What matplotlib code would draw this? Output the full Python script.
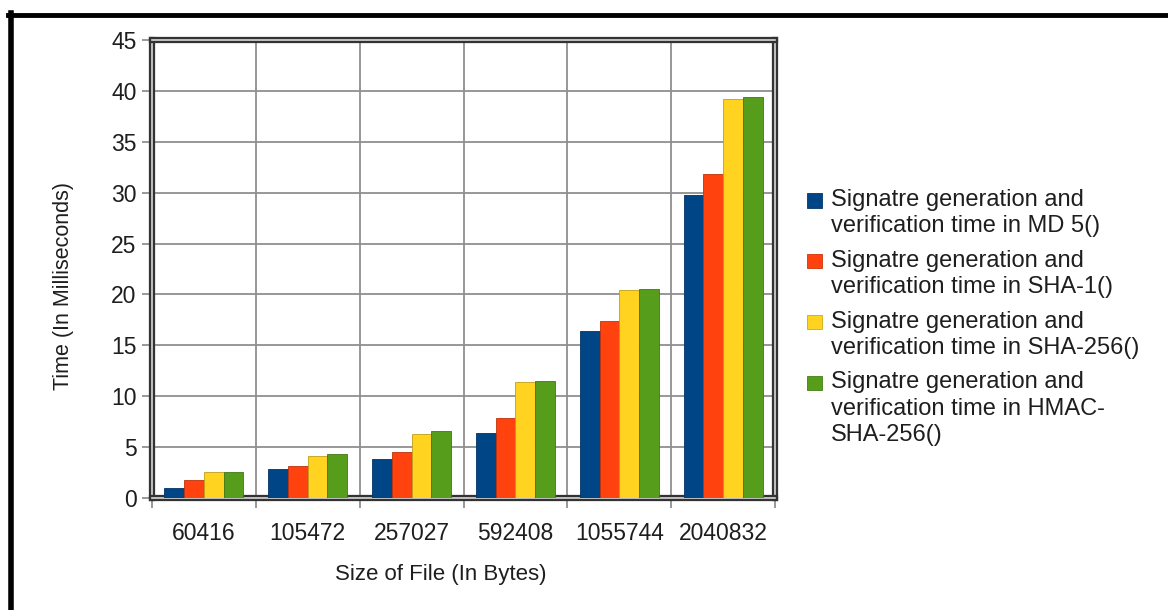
import matplotlib
matplotlib.use("Agg")
import matplotlib.pyplot as plt
import matplotlib.patheffects as pe
from matplotlib.lines import Line2D
from matplotlib.patches import Rectangle
from matplotlib.colors import to_rgb
import numpy as np

plt.rcParams['font.family'] = ['Liberation Sans', 'DejaVu Sans']

file_sizes = ["60416", "105472", "257027", "592408", "1055744", "2040832"]

md5_times = [1.0, 2.85, 3.85, 6.4, 16.45, 29.8]
sha1_times = [1.75, 3.15, 4.55, 7.9, 17.35, 31.85]
sha256_times = [2.6, 4.15, 6.3, 11.4, 20.45, 39.2]
hmac_sha256_times = [2.6, 4.35, 6.55, 11.5, 20.5, 39.4]

series_labels = [
    "Signatre generation and\nverification time in MD 5()",
    "Signatre generation and\nverification time in SHA-1()",
    "Signatre generation and\nverification time in SHA-256()",
    "Signatre generation and\nverification time in HMAC-\nSHA-256()",
]
series_colors = ["#004586", "#ff420e", "#ffd320", "#579d1c"]

y_ticks = [0, 5, 10, 15, 20, 25, 30, 35, 40, 45]

W, H = 1168, 610
fig = plt.figure(figsize=(W / 100, H / 100), dpi=100)
fig.patch.set_facecolor("white")

ax = fig.add_axes([152 / W, 1 - 498 / H, (775 - 152) / W, (498 - 40) / H])

all_series = [md5_times, sha1_times, sha256_times, hmac_sha256_times]
x = np.arange(len(file_sizes))
bar_w = 0.19
for i, (vals, col) in enumerate(zip(all_series, series_colors)):
    edge = tuple(c * 0.75 for c in to_rgb(col))
    ax.bar(x + (i - 1.5) * bar_w, vals, width=bar_w, color=col,
           edgecolor=edge, linewidth=0.6, zorder=3)

ax.set_xlim(-0.5, len(file_sizes) - 0.5)
ax.set_ylim(0, 45)
ax.set_yticks(y_ticks)
ax.set_xticks(x)
ax.set_xticklabels(file_sizes, fontsize=16.5, color="#1e1e1e")
ax.set_xticks(np.arange(-0.5, len(file_sizes)), minor=True)
ax.tick_params(axis="x", which="major", length=0, pad=17)
ax.tick_params(axis="x", which="minor", length=7, width=1.2, color="#888888", direction="out")
ax.tick_params(axis="y", labelsize=16.5, length=7, width=1.2, color="#888888",
               labelcolor="#1e1e1e", pad=4)

ax.grid(axis="y", which="major", color="#8f8f8f", linewidth=1.3, zorder=0)
ax.grid(axis="x", which="minor", color="#8f8f8f", linewidth=1.3, zorder=0)
ax.set_axisbelow(True)

for sp in ax.spines.values():
    sp.set_color("#333333")
    sp.set_linewidth(1.2)
    sp.set_path_effects([pe.Stroke(linewidth=4.5, foreground="#333333"),
                         pe.Stroke(linewidth=1.2, foreground="#d8d8d8")])

ax.set_xlabel("Size of File (In Bytes)", fontsize=16, color="#1e1e1e")
ax.xaxis.set_label_coords((441 - 152) / (775 - 152), -(580 - 498) / (498 - 40))
ax.xaxis.label.set_va("baseline")
ax.set_ylabel("Time (In Milliseconds)", fontsize=15.5, color="#1e1e1e")
ax.yaxis.set_label_coords((64 - 152) / (775 - 152), (498 - 286) / (498 - 40))
ax.yaxis.label.set_va("center")

# legend drawn as colour squares with wrapped labels
leg_x = 807
first_top = 193.5
entry_step = 60.8
for i, (lab, col) in enumerate(zip(series_labels, series_colors)):
    yt = first_top + i * entry_step
    fig.add_artist(Rectangle((leg_x / W, 1 - (yt + 14) / H), 15 / W, 14 / H,
                             transform=fig.transFigure, facecolor=col,
                             edgecolor=tuple(c * 0.8 for c in to_rgb(col)), linewidth=0.6))
    fig.text(831 / W, 1 - (yt - 4.5) / H, lab, fontsize=17, color="#1e1e1e",
             va="top", ha="left", linespacing=1.25)

# page frame lines
fig.add_artist(Line2D([8 / W, 1.0], [1 - 14.5 / H, 1 - 14.5 / H],
                      transform=fig.transFigure, color="black", linewidth=3.5))
fig.add_artist(Line2D([10.5 / W, 10.5 / W], [1 - 13 / H, 0.0],
                      transform=fig.transFigure, color="black", linewidth=4))

fig.savefig("out.png", dpi=100)
